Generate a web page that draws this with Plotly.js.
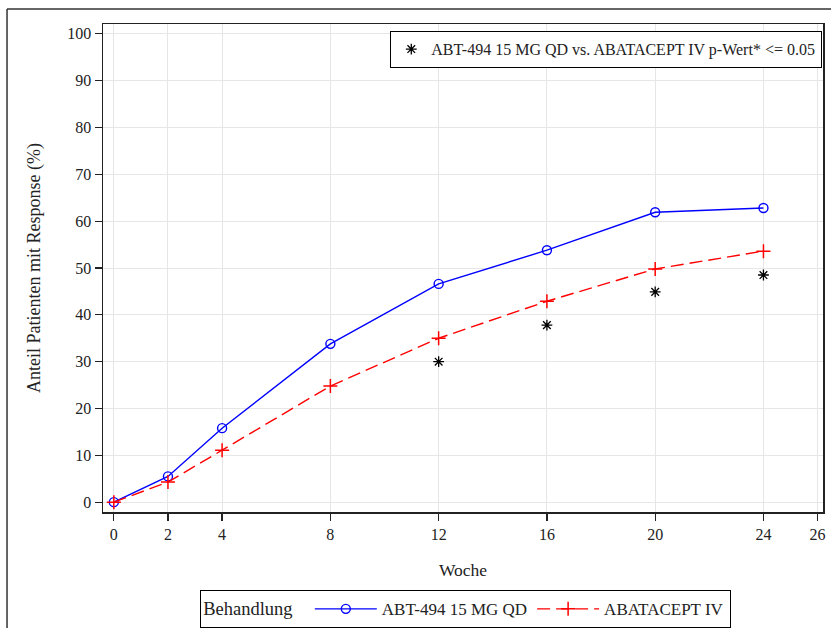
<!DOCTYPE html>
<html>
<head>
<meta charset="utf-8">
<script src="https://cdn.plot.ly/plotly-3.0.1.min.js"></script>
<style>html,body{margin:0;padding:0;background:#fff;}#chart{width:831px;height:628px;}</style>
</head>
<body>
<div id="chart"></div>
<script>
const weeks = [0, 2, 4, 8, 12, 16, 20, 24];
const abtValues = [0, 5.5, 15.8, 33.8, 46.6, 53.8, 61.9, 62.8];
const abaValues = [0, 4.3, 11.1, 24.8, 35.0, 42.9, 49.8, 53.6];
const sigWeeks = [12, 16, 20, 24];
const sigValues = [30.0, 37.8, 44.9, 48.5];
const xTicks = [0, 2, 4, 8, 12, 16, 20, 24, 26];
const yTicks = [0, 10, 20, 30, 40, 50, 60, 70, 80, 90, 100];
const nameAbt = 'ABT-494 15 MG QD';
const nameAba = 'ABATACEPT IV';
const nameSig = 'ABT-494 15 MG QD vs. ABATACEPT IV p-Wert* <= 0.05';

const font = 'Liberation Serif, Times New Roman, serif';

const traces = [
  {x: weeks, y: abtValues, name: nameAbt, type: 'scatter', mode: 'lines+markers',
   line: {color: '#0000ff', width: 1.4},
   marker: {symbol: 'circle-open', size: 9, color: '#0000ff', line: {width: 1.4, color: '#0000ff'}},
   legend: 'legend'},
  {x: weeks, y: abaValues, name: nameAba, type: 'scatter', mode: 'lines+markers',
   line: {color: '#ff0000', width: 1.4, dash: '13px,6px'},
   marker: {symbol: 'cross-thin-open', size: 10, color: '#ff0000', line: {width: 1.5, color: '#ff0000'}},
   legend: 'legend'},
  {x: sigWeeks, y: sigValues, name: nameSig, type: 'scatter', mode: 'markers',
   marker: {symbol: 'asterisk-open', size: 9, color: '#000000', line: {width: 1.3, color: '#000000'}},
   legend: 'legend2'}
];

const layout = {
  width: 831, height: 628,
  margin: {l: 103, r: 8, t: 24, b: 116},
  paper_bgcolor: '#ffffff', plot_bgcolor: '#ffffff',
  font: {family: font, size: 15, color: '#222'},
  showlegend: true,
  xaxis: {
    range: [-0.4, 26.2], tickvals: xTicks, ticktext: xTicks.map(String),
    showgrid: true, gridcolor: '#e6e6e6', gridwidth: 1, zeroline: false,
    showline: true, linecolor: '#222', linewidth: 1.5, mirror: true,
    ticks: 'outside', ticklen: 7, tickcolor: '#222', tickwidth: 1.3,
    tickfont: {family: font, size: 16, color: '#222'},
    title: {text: 'Woche', font: {family: font, size: 17.5, color: '#222'}, standoff: 22}
  },
  yaxis: {
    range: [-2.1, 102.1], tickvals: yTicks, ticktext: yTicks.map(String),
    showgrid: true, gridcolor: '#e6e6e6', gridwidth: 1, zeroline: false,
    showline: true, linecolor: '#222', linewidth: 1.5, mirror: true,
    ticks: 'outside', ticklen: 7, tickcolor: '#222', tickwidth: 1.3,
    tickfont: {family: font, size: 16, color: '#222'},
    title: {text: 'Anteil Patienten mit Response (%)', font: {family: font, size: 18, color: '#222'}, standoff: 22}
  },
  legend: {
    orientation: 'h', xref: 'container', yref: 'container',
    x: 0.560, xanchor: 'center', y: 0.0605, yanchor: 'top',
    bordercolor: '#000', borderwidth: 1.3, bgcolor: '#fff',
    title: {text: 'Behandlung  ', font: {family: font, size: 18.5, color: '#222'}},
    font: {family: font, size: 17, color: '#222'},
    itemwidth: 62, traceorder: 'normal'
  },
  legend2: {
    x: 0.9986, xanchor: 'right', y: 0.986, yanchor: 'top',
    bordercolor: '#000', borderwidth: 1.3, bgcolor: '#fff',
    font: {family: font, size: 16, color: '#222'},
    itemwidth: 30
  },
  shapes: [
    {type: 'line', xref: 'paper', yref: 'paper', x0: -0.1333, x1: 1.05, y0: 1.0307, y1: 1.0307, line: {color: '#333', width: 1.5}},
    {type: 'line', xref: 'paper', yref: 'paper', x0: -0.1333, x1: -0.1333, y0: 1.0307, y1: -0.3, line: {color: '#333', width: 1.5}}
  ]
};

Plotly.newPlot('chart', traces, layout, {displayModeBar: false, staticPlot: true});
</script>
</body>
</html>
